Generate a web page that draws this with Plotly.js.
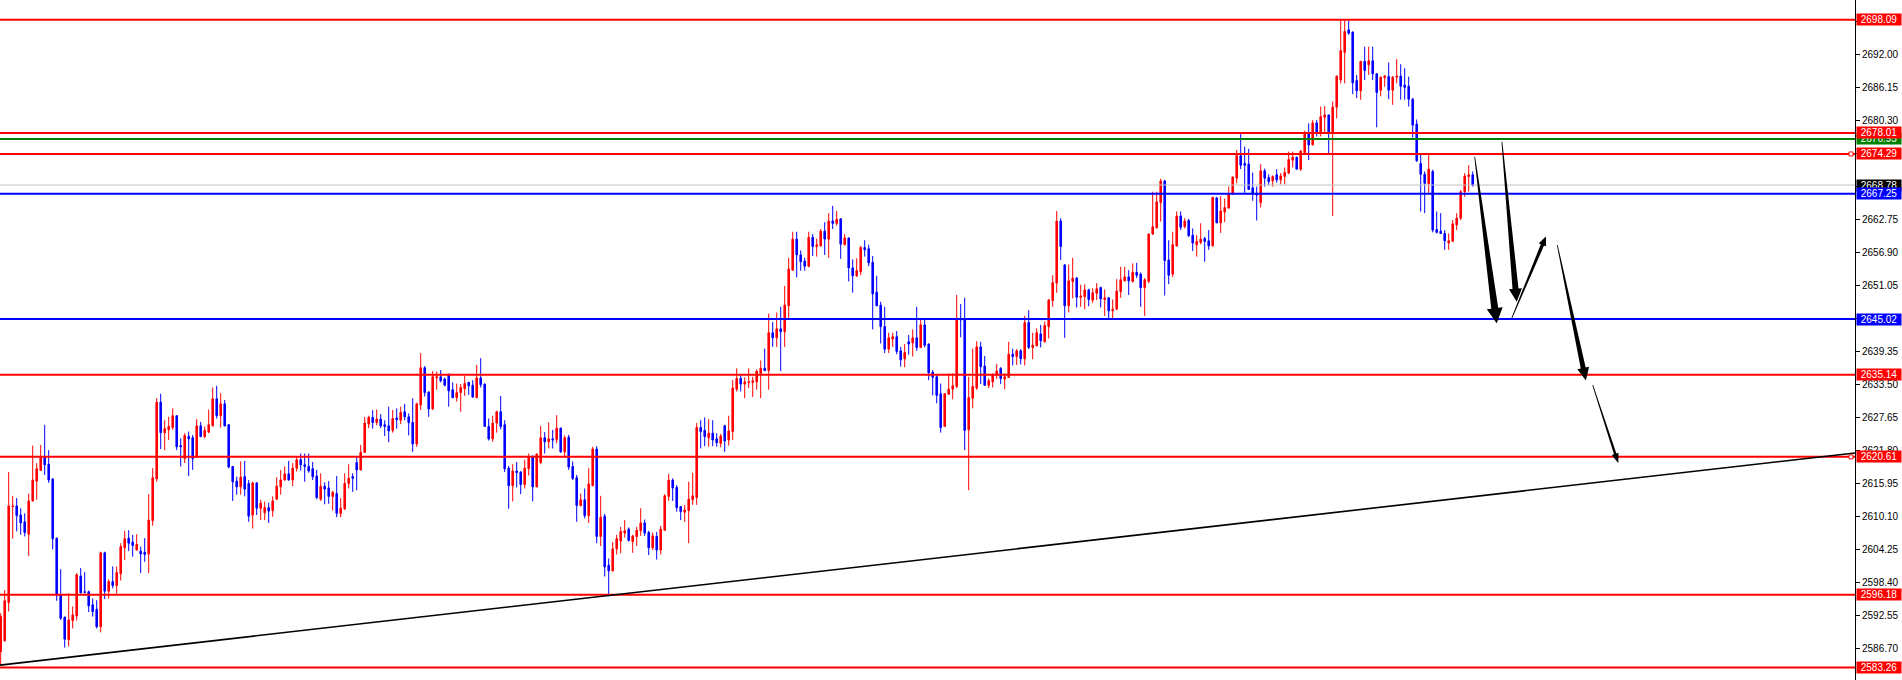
<!DOCTYPE html>
<html><head><meta charset="utf-8">
<script src="https://cdn.plot.ly/plotly-3.0.1.min.js"></script>
<style>html,body{margin:0;padding:0;background:#fff;overflow:hidden}#chart{width:1902px;height:680px}</style>
</head><body><div id="chart"></div>
<script>
// ---- OHLC data (one bar per index) ----
const opens=[2586.1,2588.0,2594.8,2611.8,2611.9,2610.3,2609.1,2606.9,2612.8,2616.3,
2618.2,2620.5,2619.3,2616.7,2606.2,2596.1,2592.2,2588.2,2591.6,2592.4,
2599.5,2596.7,2596.7,2594.4,2593.6,2590.5,2603.6,2596.8,2598.5,2597.8,
2599.9,2604.5,2606.2,2605.5,2604.1,2603.9,2603.7,2603.4,2609.3,2616.7,
2630.3,2624.9,2625.4,2625.8,2627.9,2622.6,2620.3,2624.2,2624.0,2620.5,
2626.1,2624.2,2625.0,2626.1,2630.9,2627.9,2630.0,2626.3,2618.9,2616.3,
2615.3,2617.1,2615.9,2610.3,2616.0,2611.5,2610.7,2611.6,2611.1,2613.1,
2615.3,2616.5,2617.6,2616.5,2618.6,2620.1,2619.2,2618.9,2618.5,2617.2,
2613.1,2615.4,2615.1,2613.6,2614.1,2610.6,2611.4,2615.9,2617.1,2619.6,
2618.3,2621.4,2626.4,2627.6,2626.7,2627.3,2626.3,2626.1,2625.3,2627.5,
2627.1,2628.6,2627.7,2626.7,2622.9,2629.8,2636.4,2632.1,2629.1,2634.6,
2634.8,2634.4,2635.1,2632.5,2631.1,2632.0,2632.7,2633.8,2633.3,2631.1,
2634.6,2633.5,2626.0,2623.8,2626.6,2628.6,2626.3,2618.6,2615.5,2618.1,
2617.9,2615.7,2618.5,2620.6,2615.3,2619.6,2624.0,2623.3,2623.8,2623.7,
2625.7,2621.5,2624.1,2618.9,2616.9,2612.0,2613.0,2610.2,2615.5,2622.0,
2606.5,2610.1,2601.4,2600.4,2604.3,2605.7,2607.1,2607.8,2605.6,2606.5,
2607.5,2608.9,2607.2,2604.5,2606.5,2604.1,2607.6,2613.6,2616.5,2615.2,
2611.8,2610.8,2611.1,2613.0,2613.4,2625.8,2625.3,2624.0,2624.8,2623.8,
2623.0,2626.1,2623.6,2625.1,2632.6,2634.5,2633.5,2633.8,2633.8,2633.9,
2635.4,2636.3,2635.9,2642.6,2641.7,2643.3,2642.8,2647.4,2653.7,2659.2,
2656.4,2655.3,2654.4,2659.5,2657.9,2658.0,2660.6,2659.2,2662.4,2662.0,
2662.8,2658.2,2659.4,2654.1,2652.7,2653.4,2657.7,2657.5,2655.1,2649.8,
2647.5,2643.7,2639.7,2641.5,2641.9,2639.4,2638.0,2641.0,2640.8,2641.7,
2640.0,2644.0,2640.6,2635.6,2634.8,2631.8,2626.0,2631.7,2632.6,2633.1,
2645.1,2645.1,2625.4,2631.0,2632.8,2640.1,2636.7,2633.3,2633.9,2635.1,
2636.3,2634.4,2634.7,2638.8,2638.4,2639.4,2638.0,2644.4,2640.0,2640.3,
2642.4,2641.0,2643.7,2648.3,2651.4,2662.4,2654.6,2647.4,2651.7,2652.3,
2648.9,2649.0,2650.2,2648.4,2649.6,2650.6,2648.5,2648.8,2646.5,2646.8,
2649.9,2651.8,2652.5,2651.7,2653.3,2653.0,2650.6,2651.7,2660.1,2661.2,
2665.7,2669.5,2655.5,2653.0,2658.0,2663.3,2661.4,2662.5,2659.9,2658.2,
2658.6,2659.3,2658.9,2658.0,2666.5,2662.1,2664.0,2664.7,2667.2,2670.0,
2674.0,2672.6,2672.5,2668.3,2667.3,2665.7,2671.3,2670.1,2669.5,2670.6,
2669.7,2670.3,2670.9,2673.2,2673.7,2671.6,2674.5,2678.1,2675.9,2679.8,
2678.0,2680.8,2681.2,2678.1,2682.6,2687.4,2692.3,2696.3,2695.9,2687.3,
2685.5,2690.7,2690.1,2690.8,2688.5,2685.6,2687.8,2688.0,2685.6,2687.9,
2688.1,2686.5,2686.3,2684.0,2679.6,2672.6,2670.7,2669.0,2671.2,2660.9,
2660.6,2660.2,2658.5,2658.8,2661.7,2662.9,2667.6,2670.3,2670.6];
const highs=[2592.9,2597.0,2617.9,2613.7,2613.3,2611.5,2610.6,2614.1,2622.6,2619.5,
2622.7,2626.3,2621.8,2616.8,2606.3,2600.7,2592.3,2596.4,2594.1,2600.0,
2600.9,2600.2,2596.9,2595.5,2595.2,2603.8,2603.8,2598.9,2601.2,2601.2,
2605.3,2607.5,2607.6,2606.8,2606.9,2604.7,2606.2,2614.0,2618.6,2631.0,
2631.8,2627.1,2627.7,2629.2,2628.0,2623.9,2624.8,2625.1,2624.5,2627.3,
2626.8,2626.0,2629.0,2632.9,2633.2,2631.9,2630.7,2626.4,2619.0,2617.1,
2619.8,2619.9,2616.5,2616.2,2616.1,2613.0,2612.7,2612.5,2613.6,2617.0,
2618.3,2618.9,2619.9,2619.5,2620.5,2621.2,2621.2,2621.2,2619.7,2618.3,
2617.7,2616.1,2616.3,2614.6,2617.2,2613.3,2617.7,2619.3,2617.7,2620.5,
2622.7,2627.7,2627.9,2628.9,2629.0,2628.2,2627.1,2629.5,2628.9,2629.2,
2629.5,2630.0,2628.3,2631.0,2630.2,2639.0,2636.7,2632.2,2635.8,2635.7,
2636.0,2634.7,2635.4,2633.8,2633.6,2633.5,2635.0,2633.9,2634.2,2636.9,
2638.1,2633.6,2627.4,2627.9,2628.8,2631.4,2627.1,2619.0,2619.3,2619.7,
2618.1,2620.1,2621.2,2620.9,2621.2,2626.1,2625.0,2626.7,2625.4,2628.0,
2625.8,2624.4,2624.5,2619.8,2617.4,2614.1,2615.0,2618.6,2622.4,2622.5,
2613.7,2610.5,2602.6,2605.5,2606.8,2608.2,2609.4,2608.1,2606.8,2608.2,
2611.5,2609.5,2607.5,2607.2,2607.3,2608.4,2614.0,2617.6,2616.8,2615.6,
2611.9,2612.1,2616.2,2617.8,2626.6,2627.1,2627.6,2627.3,2627.1,2624.8,
2624.7,2626.3,2627.9,2634.2,2636.3,2635.1,2634.7,2636.3,2634.8,2636.1,
2637.7,2639.8,2646.0,2644.5,2646.2,2647.2,2650.9,2655.9,2660.5,2660.5,
2657.2,2655.9,2660.5,2660.1,2659.3,2661.0,2662.2,2663.8,2665.1,2664.2,
2662.9,2660.1,2659.5,2655.6,2655.8,2658.0,2659.0,2658.2,2656.2,2652.7,
2648.1,2647.2,2642.6,2642.6,2642.9,2640.1,2640.6,2642.2,2643.2,2647.2,
2645.0,2645.0,2640.7,2636.0,2635.1,2633.6,2631.9,2635.4,2635.4,2649.3,
2647.7,2648.8,2634.8,2639.8,2641.1,2641.0,2638.5,2634.5,2635.4,2637.1,
2636.5,2635.4,2641.0,2639.8,2639.7,2639.7,2645.6,2646.6,2642.6,2643.4,
2644.0,2644.6,2648.6,2652.8,2664.2,2662.9,2654.8,2654.7,2655.9,2652.5,
2651.1,2651.2,2650.4,2650.5,2651.4,2650.8,2650.3,2648.9,2648.5,2652.1,
2654.3,2654.3,2653.7,2654.9,2655.0,2653.3,2652.3,2660.2,2667.6,2667.6,
2669.9,2669.7,2659.0,2660.5,2664.1,2664.1,2662.9,2662.8,2661.1,2659.9,
2662.0,2659.6,2660.8,2666.7,2666.7,2666.8,2666.4,2668.5,2670.3,2675.0,
2678.0,2675.6,2675.2,2671.0,2668.5,2672.5,2671.7,2670.7,2670.5,2671.6,
2670.9,2671.9,2674.7,2674.7,2673.8,2675.0,2678.4,2679.7,2680.3,2680.3,
2682.7,2682.8,2681.3,2683.6,2688.2,2698.0,2698.0,2697.9,2696.0,2688.3,
2690.8,2693.3,2693.3,2693.3,2688.6,2688.0,2688.3,2690.5,2688.1,2691.1,
2690.2,2689.5,2688.0,2684.2,2680.4,2674.3,2671.2,2674.3,2671.5,2664.1,
2663.8,2660.8,2660.2,2662.6,2663.8,2667.9,2670.9,2672.3,2671.2];
const lows=[2583.7,2587.9,2593.2,2606.1,2607.4,2606.8,2606.5,2603.0,2612.7,2613.0,
2618.1,2617.4,2616.0,2604.2,2595.1,2591.7,2586.8,2587.0,2590.2,2591.6,
2596.4,2596.4,2593.1,2592.3,2590.2,2589.5,2595.4,2595.5,2597.3,2596.4,
2598.7,2602.3,2603.9,2602.9,2604.0,2600.0,2602.0,2600.0,2608.4,2616.2,
2622.0,2621.8,2623.6,2625.4,2621.8,2618.9,2619.5,2617.2,2618.3,2620.4,
2624.1,2623.9,2624.8,2626.0,2627.4,2625.8,2626.0,2618.6,2612.8,2613.9,
2613.9,2613.6,2609.1,2607.9,2610.3,2609.4,2609.4,2608.9,2610.0,2613.0,
2613.9,2616.4,2616.4,2615.4,2618.0,2618.2,2616.2,2617.8,2616.5,2613.1,
2612.8,2612.2,2612.3,2611.1,2609.9,2609.9,2611.2,2615.0,2614.4,2614.7,
2618.2,2621.3,2625.7,2625.6,2626.2,2625.7,2624.3,2623.2,2624.9,2625.6,
2626.4,2627.1,2624.4,2621.5,2622.4,2628.9,2631.3,2627.7,2628.9,2632.5,
2633.8,2633.1,2629.5,2631.0,2630.4,2628.6,2631.4,2631.6,2631.1,2631.0,
2632.9,2625.9,2623.5,2623.3,2624.9,2625.5,2617.9,2611.4,2612.7,2615.2,
2614.0,2615.0,2617.3,2612.7,2615.2,2619.3,2621.2,2622.1,2622.1,2623.0,
2621.3,2620.5,2618.3,2616.5,2609.1,2611.8,2609.7,2608.9,2615.4,2605.3,
2604.8,2599.4,2595.9,2600.3,2603.3,2603.5,2606.3,2605.6,2603.6,2604.8,
2606.6,2606.6,2603.2,2604.1,2602.4,2603.3,2607.5,2612.8,2612.8,2610.9,
2609.4,2609.1,2605.3,2612.1,2612.1,2622.1,2622.5,2622.4,2622.5,2622.4,
2622.3,2621.5,2622.6,2623.6,2632.2,2632.2,2631.0,2632.8,2631.2,2632.5,
2631.0,2635.8,2632.5,2640.1,2640.1,2635.8,2640.1,2645.2,2653.6,2652.4,
2653.6,2653.6,2654.2,2656.2,2656.1,2657.9,2656.4,2655.9,2661.0,2661.6,
2655.7,2658.1,2651.7,2649.7,2652.5,2652.8,2656.1,2654.4,2643.2,2647.3,
2640.7,2639.0,2639.0,2640.1,2638.8,2636.6,2636.5,2638.7,2638.4,2639.4,
2639.9,2640.0,2634.2,2631.5,2630.1,2624.9,2625.9,2631.6,2630.8,2632.8,
2641.8,2621.8,2614.7,2629.2,2632.5,2633.5,2633.2,2632.8,2632.9,2634.4,
2633.5,2632.6,2634.6,2636.8,2636.9,2637.0,2636.8,2639.7,2637.9,2640.2,
2640.0,2640.9,2641.6,2647.2,2649.7,2655.5,2641.7,2646.2,2648.7,2647.1,
2647.2,2646.8,2647.3,2647.9,2648.4,2647.1,2645.6,2645.2,2645.2,2646.6,
2648.8,2651.7,2649.3,2651.5,2652.3,2647.2,2645.6,2651.4,2659.9,2661.1,
2662.3,2649.2,2651.2,2652.5,2657.9,2660.8,2661.1,2659.6,2657.1,2656.1,
2658.3,2655.2,2657.3,2657.9,2662.0,2660.3,2662.2,2664.6,2667.1,2669.1,
2671.6,2667.4,2667.9,2666.0,2662.5,2664.8,2668.5,2668.8,2668.5,2669.2,
2668.9,2668.9,2670.7,2671.9,2671.5,2671.3,2674.4,2673.2,2675.8,2677.4,
2677.4,2678.1,2674.4,2663.3,2680.6,2686.8,2686.8,2695.4,2684.9,2684.2,
2683.9,2687.4,2688.3,2687.4,2679.0,2684.5,2686.2,2684.0,2683.0,2686.8,
2683.9,2683.9,2682.7,2677.2,2672.9,2664.1,2663.8,2667.3,2660.4,2660.2,
2660.1,2657.3,2657.3,2658.7,2660.8,2662.6,2666.7,2667.6,2668.5];
const closes=[2592.3,2595.1,2611.9,2611.9,2610.2,2608.9,2607.2,2612.8,2616.5,2618.5,
2620.5,2619.2,2616.5,2606.1,2596.1,2592.0,2588.3,2591.7,2592.6,2599.7,
2596.5,2596.6,2594.2,2593.2,2590.5,2603.6,2596.8,2598.5,2597.8,2600.1,
2604.7,2606.1,2605.3,2604.9,2605.1,2603.4,2603.3,2609.4,2616.9,2630.3,
2624.9,2625.6,2626.0,2627.9,2622.4,2622.4,2624.4,2623.8,2620.3,2626.1,
2624.2,2625.3,2626.3,2630.9,2627.9,2630.0,2626.1,2618.8,2616.2,2615.3,
2617.0,2614.9,2610.1,2616.0,2611.5,2612.4,2611.6,2611.0,2612.8,2615.4,
2616.5,2617.6,2616.5,2618.6,2620.1,2619.2,2618.9,2618.1,2617.1,2613.4,
2615.4,2614.9,2613.6,2614.3,2610.6,2611.5,2615.9,2616.8,2616.8,2618.3,
2621.4,2626.6,2627.6,2626.7,2627.3,2626.1,2626.0,2625.2,2627.4,2627.2,
2628.5,2627.7,2626.7,2622.9,2630.0,2636.4,2632.0,2629.1,2634.8,2634.8,
2634.1,2633.3,2632.3,2631.1,2632.0,2632.9,2633.6,2633.2,2631.2,2634.6,
2633.4,2626.0,2623.8,2626.6,2628.6,2626.0,2618.5,2615.5,2618.1,2617.8,
2615.7,2618.6,2620.6,2615.3,2621.1,2624.0,2623.3,2623.8,2623.6,2625.7,
2621.5,2624.0,2618.8,2616.8,2612.0,2613.0,2610.2,2615.8,2622.0,2606.5,
2609.9,2601.1,2600.4,2604.3,2606.1,2607.4,2607.5,2605.8,2606.6,2607.6,
2608.9,2607.1,2604.5,2606.6,2604.1,2607.8,2613.7,2616.5,2615.1,2611.6,
2610.9,2611.2,2613.1,2613.7,2625.8,2625.1,2624.2,2624.8,2623.6,2623.1,
2624.3,2623.4,2625.2,2632.8,2634.5,2633.5,2633.9,2633.9,2634.1,2635.8,
2636.3,2635.9,2642.6,2641.7,2643.3,2642.8,2647.5,2653.9,2659.2,2656.4,
2655.2,2654.4,2659.5,2657.9,2658.2,2660.6,2659.2,2662.4,2662.0,2662.7,
2658.3,2659.4,2654.1,2652.7,2653.6,2657.7,2657.3,2655.0,2649.5,2647.4,
2643.7,2639.7,2641.7,2641.9,2639.3,2637.8,2639.1,2640.6,2641.7,2640.0,
2644.0,2640.4,2635.5,2634.7,2631.5,2625.8,2631.8,2632.6,2633.2,2645.2,
2644.9,2625.3,2631.1,2633.1,2640.1,2636.6,2633.3,2634.1,2635.1,2635.8,
2634.5,2634.8,2638.8,2638.4,2639.4,2638.0,2644.4,2640.0,2640.4,2642.6,
2641.2,2643.9,2648.4,2651.5,2662.4,2657.9,2647.4,2651.8,2652.3,2648.9,
2649.1,2650.2,2648.5,2649.7,2650.4,2648.6,2648.8,2646.5,2646.8,2650.0,
2652.0,2652.5,2651.8,2653.3,2652.8,2650.6,2652.0,2660.1,2661.4,2665.8,
2669.5,2655.4,2652.8,2658.2,2663.3,2661.3,2662.4,2659.8,2658.5,2658.8,
2659.2,2658.8,2658.0,2666.6,2662.1,2664.2,2664.8,2667.2,2670.2,2674.0,
2672.3,2672.3,2668.0,2667.2,2667.0,2671.3,2670.0,2669.4,2670.3,2669.7,
2670.4,2671.0,2673.3,2673.7,2671.6,2674.8,2678.1,2675.9,2679.8,2678.1,
2680.9,2681.2,2678.1,2682.6,2688.1,2692.6,2696.0,2695.7,2686.9,2685.5,
2690.7,2689.1,2690.8,2688.5,2685.2,2687.9,2688.1,2685.6,2687.9,2688.1,
2686.3,2686.1,2684.0,2679.4,2673.1,2670.7,2669.1,2671.6,2660.8,2660.4,
2660.2,2658.9,2658.9,2661.9,2662.9,2667.6,2670.4,2670.6,2668.78];

// ---- price levels drawn on the chart ----
const redLevels=[2698.09,2678.01,2674.29,2635.14,2620.61,2596.18,2583.26];
const greenLevels=[2676.95];
const blueLevels=[2667.25,2645.02];
const bidPrice=2668.78;
const alertLevels=[2674.29,2620.61];
// trend line: price at left edge and at right edge of the chart
const trendLine=[2583.7,2621.3];

// ---- y-axis ticks ----
const tickVals=[2580.85,2586.70,2592.55,2598.40,2604.25,2610.10,2615.95,2621.80,2627.65,2633.50,2639.35,2645.20,2651.05,2656.90,2662.75,2668.60,2674.45,2680.30,2686.15,2692.00,2697.85];
const tickLabels=["2580.85","2586.70","2592.55","2598.40","2604.25","2610.10","2615.95","2621.80","2627.65","2633.50","2639.35","2645.20","2651.05","2656.90","2662.75","2668.60","2674.45","2680.30","2686.15","2692.00","2697.85"];

// ---- hand-drawn arrows (bar index, price) ----
const arrowFrom=[[368.5,2673.81],[375.3,2676.47],[377.75,2645.16],[389.15,2658.16],[398.0,2633.34]];
const arrowTo=[[374.0,2644.30],[379.0,2648.11],[386.3,2659.65],[396.3,2634.12],[404.4,2619.46]];

// ---- layout / styling ----
const FIG_W=1902, FIG_H=680, AXIS_W=47;
const plotW=FIG_W-AXIS_W;
const barPx=4;
const xRange=[-0.175,-0.175+plotW/barPx];
const yRange=[2581.06,2701.58];
const FONT='"Liberation Sans", Arial, sans-serif';
const RED='#ff0000', BLUE='#0000ff', GREEN='#008000';
const arrowShaft=[7,6,3.5,5,2.5], arrowHead=[16,13,8,12,7], arrowHeadLen=[15,13,9,13,10];

const idx=opens.map((_,i)=>i);
const pxX=plotW/(xRange[1]-xRange[0]);
const pxY=FIG_H/(yRange[1]-yRange[0]);

const trace={
  type:'candlestick', x:idx, open:opens, high:highs, low:lows, close:closes,
  increasing:{line:{color:RED,width:1},fillcolor:RED},
  decreasing:{line:{color:BLUE,width:1},fillcolor:BLUE},
  whiskerwidth:0, hoverinfo:'skip', showlegend:false
};

const shapes=[];
function hline(p,color,w){shapes.push({type:'line',xref:'paper',x0:0,x1:1,yref:'y',y0:p,y1:p,line:{color:color,width:w},layer:'above'});}
hline(bidPrice,'#c0c0c0',1);
redLevels.forEach(p=>hline(p,RED,2));
greenLevels.forEach(p=>hline(p,GREEN,2));
blueLevels.forEach(p=>hline(p,BLUE,2));
shapes.push({type:'line',xref:'paper',x0:0,x1:1,yref:'y',y0:trendLine[0],y1:trendLine[1],line:{color:'#000',width:1.6},layer:'above'});
alertLevels.forEach(p=>shapes.push({type:'rect',xref:'paper',x0:(plotW-6)/plotW,x1:(plotW-2)/plotW,yref:'y',y0:p-2/pxY,y1:p+2/pxY,line:{color:RED,width:1},fillcolor:'#fff',layer:'above'}));

function arrowPath(a,b,ws,wh,hl){
  const ax=a[0]*pxX, ay=-a[1]*pxY, bx=b[0]*pxX, by=-b[1]*pxY;
  const dx=bx-ax, dy=by-ay, L=Math.hypot(dx,dy), ux=dx/L, uy=dy/L, nx=-uy, ny=ux;
  const cx=bx-ux*hl, cy=by-uy*hl;
  const pts=[[ax+nx*0.4,ay+ny*0.4],[cx+nx*ws/2,cy+ny*ws/2],[cx+nx*wh/2,cy+ny*wh/2],[bx,by],
             [cx-nx*wh/2,cy-ny*wh/2],[cx-nx*ws/2,cy-ny*ws/2],[ax-nx*0.4,ay-ny*0.4]];
  return 'M'+pts.map(p=>(p[0]/pxX).toFixed(4)+','+(-p[1]/pxY).toFixed(4)).join(' L')+' Z';
}
arrowFrom.forEach((a,k)=>shapes.push({type:'path',xref:'x',yref:'y',path:arrowPath(a,arrowTo[k],arrowShaft[k],arrowHead[k],arrowHeadLen[k]),fillcolor:'#000',line:{color:'rgba(0,0,0,0)',width:0},layer:'above'}));

function priceLabel(p,bg){
  return {xref:'paper',x:1,xanchor:'left',xshift:1,yref:'y',y:p,yanchor:'middle',text:p.toFixed(2),showarrow:false,
          bgcolor:bg,font:{color:'#fff',size:10,family:FONT},width:44,height:11,borderpad:0,align:'center'};
}
const annotations=[
  priceLabel(redLevels[0],RED),
  priceLabel(greenLevels[0],GREEN),
  priceLabel(redLevels[1],RED),
  priceLabel(redLevels[2],RED),
  priceLabel(bidPrice,'#000'),
  priceLabel(blueLevels[0],BLUE),
  priceLabel(blueLevels[1],BLUE),
  priceLabel(redLevels[3],RED),
  priceLabel(redLevels[4],RED),
  priceLabel(redLevels[5],RED),
  priceLabel(redLevels[6],RED)
];

const layout={
  width:FIG_W, height:FIG_H,
  margin:{l:0,r:AXIS_W,t:0,b:0,pad:0},
  paper_bgcolor:'#fff', plot_bgcolor:'#fff',
  showlegend:false, boxgap:0.45,
  xaxis:{range:xRange,visible:false,rangeslider:{visible:false},fixedrange:true},
  yaxis:{range:yRange,side:'right',tickvals:tickVals,ticktext:tickLabels,ticks:'outside',ticklen:4,tickcolor:'#000',
         showline:true,linecolor:'#000',linewidth:1,showgrid:false,zeroline:false,fixedrange:true,
         tickfont:{size:10,color:'#000',family:FONT}},
  shapes:shapes, annotations:annotations
};
Plotly.newPlot('chart',[trace],layout,{displayModeBar:false,staticPlot:true});
</script>
</body></html>
